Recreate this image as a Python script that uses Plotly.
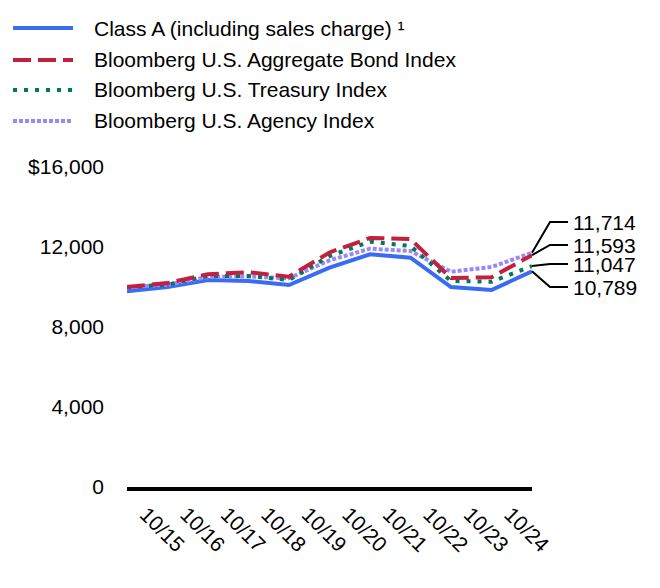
import plotly.graph_objects as go

# ---- data ----
x_index = list(range(11))
tick_labels = ["10/15", "10/16", "10/17", "10/18", "10/19", "10/20", "10/21", "10/22", "10/23", "10/24"]
class_a = [9790, 10000, 10350, 10300, 10100, 10965, 11635, 11465, 10000, 9850, 10789]
agg_bond = [10000, 10196, 10642, 10737, 10517, 11727, 12453, 12393, 10450, 10488, 11593]
treasury = [10000, 10115, 10550, 10550, 10350, 11550, 12265, 12050, 10300, 10265, 11047]
agency = [10000, 10115, 10500, 10530, 10435, 11335, 11915, 11800, 10765, 11000, 11714]
y_tickvals = [0, 4000, 8000, 12000, 16000]
y_ticktext = ["0", "4,000", "8,000", "12,000", "$16,000"]
names = ["Class A (including sales charge) ¹",
         "Bloomberg U.S. Aggregate Bond Index",
         "Bloomberg U.S. Treasury Index",
         "Bloomberg U.S. Agency Index"]

FONT = "Liberation Sans, Arial, sans-serif"
FS = 21
OFF = 8  # page body margin offset
W, H = 660 - OFF, 588 - OFF
ML, MT = 127 - OFF, 167 - OFF
PLOT_RIGHT, PLOT_BOTTOM = 532 - OFF, 487 - OFF
MR, MB = W - PLOT_RIGHT, H - PLOT_BOTTOM
PW, PH = PLOT_RIGHT - ML, PLOT_BOTTOM - MT
YMAX = 16000
XMAX = 10

colors = {"a": "#3A6BF5", "agg": "#C3203F", "tr": "#00785A", "ag": "#9B87F7"}
styles = {
    "a": dict(color=colors["a"], width=4, dash="solid"),
    "agg": dict(color=colors["agg"], width=4, dash="18px,7px"),
    "tr": dict(color=colors["tr"], width=4, dash="4px,7px"),
    "ag": dict(color=colors["ag"], width=4, dash="4px,2px"),
}

fig = go.Figure()
fig.add_trace(go.Scatter(x=x_index, y=class_a, mode="lines", line=styles["a"], name=names[0], showlegend=False))
fig.add_trace(go.Scatter(x=x_index, y=agency, mode="lines", line=styles["ag"], name=names[3], showlegend=False))
fig.add_trace(go.Scatter(x=x_index, y=treasury, mode="lines", line=styles["tr"], name=names[2], showlegend=False))
fig.add_trace(go.Scatter(x=x_index, y=agg_bond, mode="lines", line=styles["agg"], name=names[1], showlegend=False))


def px_to_paper(xs, ys):
    # screen pixel coords (as in reference) -> paper coords
    xl, yl = xs - OFF, ys - OFF
    return (xl - ML) / PW, (PLOT_BOTTOM - yl) / PH


shapes = []
annotations = []

# manual legend
legend_rows = [28, 60, 90, 121]
legend_keys = ["a", "agg", "tr", "ag"]
for key, name, ry in zip(legend_keys, names, legend_rows):
    x0, y0 = px_to_paper(13, ry)
    x1, _ = px_to_paper(73, ry)
    st = styles[key]
    shapes.append(dict(type="line", xref="paper", yref="paper", x0=x0, x1=x1, y0=y0, y1=y0,
                       line=dict(color=st["color"], width=st["width"], dash=st["dash"])))
    tx, ty = px_to_paper(92, ry)
    annotations.append(dict(xref="paper", yref="paper", x=tx, y=ty, text=name, showarrow=False,
                            xanchor="left", yanchor="middle", font=dict(size=FS, color="#000", family=FONT)))

# end labels with leader lines
end_vals = [agency[-1], agg_bond[-1], treasury[-1], class_a[-1]]
label_rows = [222, 245, 264, 287]
for v, ry in zip(end_vals, label_rows):
    px_pt = 1.0
    py_pt = v / YMAX
    ex, ey = px_to_paper(550, ry)
    hx, _ = px_to_paper(568, ry)
    shapes.append(dict(type="path", xref="paper", yref="paper",
                       path=f"M {px_pt},{py_pt} L {ex},{ey} L {hx},{ey}",
                       line=dict(color="#000", width=2)))
    tx, _ = px_to_paper(571, ry)
    annotations.append(dict(xref="paper", yref="paper", x=tx, y=ey, text=f"{v:,}", showarrow=False,
                            xanchor="left", yanchor="middle", font=dict(size=FS, color="#000", family=FONT)))

fig.update_layout(
    width=W, height=H,
    margin=dict(l=ML, r=MR, t=MT, b=MB, pad=0),
    paper_bgcolor="white", plot_bgcolor="white",
    font=dict(family=FONT, size=FS, color="#000"),
    showlegend=False,
    shapes=shapes,
    annotations=annotations,
    xaxis=dict(range=[0, XMAX], tickmode="array", tickvals=list(range(len(tick_labels))), ticktext=tick_labels,
               tickangle=45, showgrid=False, zeroline=False, showline=True, linecolor="#000", linewidth=4,
               ticks="", ticklabelshift=19, ticklabelstandoff=3, tickfont=dict(size=FS, color="#000")),
    yaxis=dict(range=[0, YMAX], tickmode="array", tickvals=y_tickvals, ticktext=y_ticktext,
               showgrid=False, zeroline=False, showline=False, ticks="", ticklabelstandoff=22,
               tickfont=dict(size=FS, color="#000")),
)

fig.write_html("out.html")
